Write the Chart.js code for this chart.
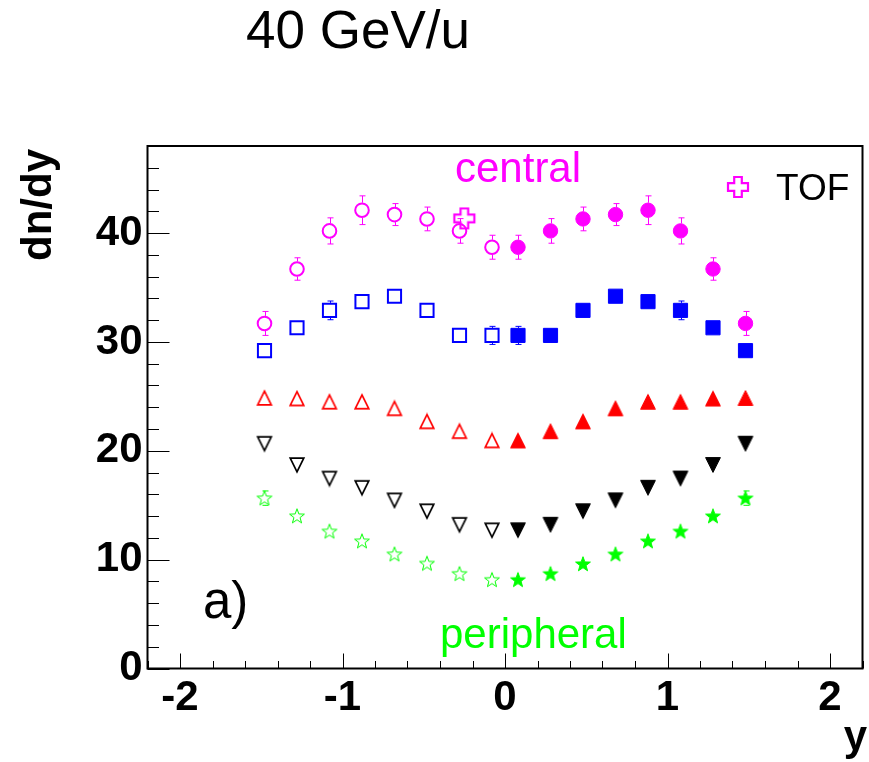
<!DOCTYPE html>
<html><head><meta charset="utf-8">
<script src="https://cdn.jsdelivr.net/npm/chart.js@4.4.1/dist/chart.umd.min.js"></script>
<style>html,body{margin:0;padding:0;background:#fff;}canvas{display:block;}</style>
</head><body>
<canvas id="c" width="869" height="762"></canvas>
<script>
// Rapidity bin centres (backward = reflected, forward = measured)
const rapidityBackward = [-1.48, -1.28, -1.08, -0.88, -0.68, -0.48, -0.28, -0.08];
const rapidityForward = [0.08, 0.28, 0.48, 0.68, 0.88, 1.08, 1.28, 1.48];

// dn/dy per centrality class
const centralForward = [38.7, 40.2, 41.3, 41.7, 42.1, 40.2, 36.7, 31.7];
const centralForwardErr = [1.1, 1.13, 1.09, 1.01, 1.32, 1.2, 1.03, 1.1];
const centralBackward = [31.7, 36.7, 40.2, 42.1, 41.7, 41.3, 40.2, 38.7];
const centralBackwardErr = [1.1, 1.03, 1.2, 1.32, 1.01, 1.09, 1.13, 1.1];

const class2Forward = [30.6, 30.6, 32.9, 34.2, 33.7, 32.9, 31.3, 29.2];
const class2ForwardErr = [0.83, 0.5, 0.5, 0.5, 0.5, 0.86, 0.5, 0.5];
const class2Backward = [29.2, 31.3, 32.9, 33.7, 34.2, 32.9, 30.6, 30.6];
const class2BackwardErr = [0.5, 0.5, 0.86, 0.5, 0.5, 0.5, 0.5, 0.83];

const class3Forward = [20.95, 21.8, 22.7, 23.9, 24.5, 24.5, 24.8, 24.85];
const class3Backward = [24.85, 24.8, 24.5, 24.5, 23.9, 22.7, 21.8, 20.95];
const class3Err = [0.4, 0.4, 0.4, 0.4, 0.4, 0.4, 0.4, 0.4];

const class4Forward = [12.7, 13.2, 14.45, 15.45, 16.6, 17.45, 18.7, 20.65];
const class4Backward = [20.65, 18.7, 17.45, 16.6, 15.45, 14.45, 13.2, 12.7];
const class4Err = [0.3, 0.3, 0.3, 0.3, 0.3, 0.3, 0.3, 0.3];

const peripheralForward = [8.15, 8.7, 9.6, 10.5, 11.7, 12.6, 14.0, 15.65];
const peripheralBackward = [15.65, 14.0, 12.6, 11.7, 10.5, 9.65, 8.7, 8.15];
const peripheralForwardErr = [0.3, 0.3, 0.3, 0.3, 0.3, 0.3, 0.4, 0.66];
const peripheralBackwardErr = [0.66, 0.4, 0.3, 0.3, 0.3, 0.3, 0.3, 0.3];

// TOF measurement
const tofRapidity = [-0.25];
const tofValue = [41.35];

// Axis ticks
const xTickValues = [-2, -1, 0, 1, 2];
const yTickValues = [0, 10, 20, 30, 40];

const FONT = '"Liberation Sans", Arial, Helvetica, sans-serif';
const MAGENTA = '#ff00ff', BLUE = '#0000ff', RED = '#ff0000', BLACK = '#000000', GREEN = '#00ff00';

// ---- marker images ----
function markerCanvas(size, draw) {
  const c = document.createElement('canvas');
  c.width = size; c.height = size;
  const g = c.getContext('2d');
  draw(g, size / 2);
  return c;
}
function triangleMarker(color, filled, down) {
  return markerCanvas(18, (g, c) => {
    const h = filled ? 7.4 : 6.8;
    const s = down ? -1 : 1;
    g.beginPath();
    g.moveTo(c, c - s * h);
    g.lineTo(c + h, c + s * h);
    g.lineTo(c - h, c + s * h);
    g.closePath();
    if (filled) { g.fillStyle = color; g.fill(); }
    g.strokeStyle = color; g.lineWidth = filled ? 1 : 1.7; g.stroke();
  });
}
function starMarker(color, filled) {
  return markerCanvas(18, (g, c) => {
    const ro = 7.8, ri = 3.2;
    g.beginPath();
    for (let k = 0; k < 10; k++) {
      const r = k % 2 === 0 ? ro : ri;
      const a = -Math.PI / 2 + k * Math.PI / 5;
      const px = c + r * Math.cos(a), py = c + 0.5 + r * Math.sin(a);
      if (k === 0) g.moveTo(px, py); else g.lineTo(px, py);
    }
    g.closePath();
    if (filled) { g.fillStyle = color; g.fill(); }
    g.strokeStyle = color; g.lineWidth = 1; g.stroke();
  });
}
function plusMarker(color) {
  return markerCanvas(26, (g, c) => {
    const h = 10, a = 3.8;
    const pts = [[-a,-h],[a,-h],[a,-a],[h,-a],[h,a],[a,a],[a,h],[-a,h],[-a,a],[-h,a],[-h,-a],[-a,-a]];
    g.beginPath();
    pts.forEach((p, i) => { if (i === 0) g.moveTo(c + p[0], c + p[1]); else g.lineTo(c + p[0], c + p[1]); });
    g.closePath();
    g.strokeStyle = color; g.lineWidth = 2.2; g.stroke();
  });
}

const tofImg = plusMarker(MAGENTA);

function pts(xs, ys) { return xs.map((x, i) => ({ x: x, y: ys[i] })); }

function series(xs, ys, errs, style, half, errColor) {
  return Object.assign({ data: pts(xs, ys), errors: errs, markerHalf: half, errorColor: errColor, showLine: false }, style);
}

const openCircle = { pointStyle: 'circle', pointRadius: 6.8, borderWidth: 2, borderColor: MAGENTA, backgroundColor: 'rgba(0,0,0,0)' };
const fullCircle = { pointStyle: 'circle', pointRadius: 7.2, borderWidth: 1, borderColor: MAGENTA, backgroundColor: MAGENTA };
const openSquare = { pointStyle: 'rect', pointRadius: 9.3, borderWidth: 2, borderColor: BLUE, backgroundColor: 'rgba(0,0,0,0)' };
const fullSquare = { pointStyle: 'rect', pointRadius: 10, borderWidth: 1, borderColor: BLUE, backgroundColor: BLUE };
const img = (im) => ({ pointStyle: im, pointRadius: 8, borderWidth: 0, borderColor: 'rgba(0,0,0,0)', backgroundColor: 'rgba(0,0,0,0)' });

const datasets = [
  { data: pts(tofRapidity, tofValue), showLine: false, ...img(tofImg), pointRadius: 11 },
  series(rapidityBackward, centralBackward, centralBackwardErr, openCircle, 7.5, MAGENTA),
  series(rapidityForward, centralForward, centralForwardErr, fullCircle, 7.5, MAGENTA),
  series(rapidityBackward, class2Backward, class2BackwardErr, openSquare, 7.5, BLUE),
  series(rapidityForward, class2Forward, class2ForwardErr, fullSquare, 7.5, BLUE),
  series(rapidityBackward, class3Backward, class3Err, img(triangleMarker(RED, false, false)), 7.5, RED),
  series(rapidityForward, class3Forward, class3Err, img(triangleMarker(RED, true, false)), 7.5, RED),
  series(rapidityBackward, class4Backward, class4Err, img(triangleMarker(BLACK, false, true)), 7.5, BLACK),
  series(rapidityForward, class4Forward, class4Err, img(triangleMarker(BLACK, true, true)), 7.5, BLACK),
  series(rapidityBackward, peripheralBackward, peripheralBackwardErr, img(starMarker(GREEN, false)), 7, GREEN),
  series(rapidityForward, peripheralForward, peripheralForwardErr, img(starMarker(GREEN, true)), 7, GREEN)
];

// Vertical error bars drawn from the marker edge outward, with small end caps
const errorBars = {
  id: 'errorBars',
  beforeDatasetsDraw(chart) {
    const ctx = chart.ctx, xs = chart.scales.x, ys = chart.scales.y;
    ctx.save();
    chart.data.datasets.forEach((ds) => {
      if (!ds.errors) return;
      ctx.strokeStyle = ds.errorColor;
      ds.data.forEach((p, i) => {
        const e = ds.errors[i];
        const px = Math.round(xs.getPixelForValue(p.x)) + 0.5;
        const py = ys.getPixelForValue(p.y);
        const top = ys.getPixelForValue(p.y + e);
        const bot = ys.getPixelForValue(p.y - e);
        const half = ds.markerHalf;
        ctx.lineWidth = 1;
        ctx.beginPath();
        if (py - top > half) {
          ctx.moveTo(px, py - half); ctx.lineTo(px, top);
          ctx.moveTo(px - 3, top); ctx.lineTo(px + 3, top);
        }
        if (bot - py > half) {
          ctx.moveTo(px, py + half); ctx.lineTo(px, bot);
          ctx.moveTo(px - 3, bot); ctx.lineTo(px + 3, bot);
        }
        ctx.stroke();
      });
    });
    ctx.restore();
  }
};

const tickFont = { family: FONT, size: 42, weight: 'bold' };

// Frame, inward tick marks and x tick labels
const frame = {
  id: 'frame',
  afterDraw(chart) {
    const ctx = chart.ctx, a = chart.chartArea, xs = chart.scales.x, ys = chart.scales.y;
    ctx.save();
    ctx.strokeStyle = '#000';
    ctx.lineWidth = 1;
    ctx.beginPath();
    for (let v = -2.2; v <= 2.2001; v += 0.2) {
      const x = Math.round(xs.getPixelForValue(v)) + 0.5;
      const major = Math.abs(v - Math.round(v)) < 1e-6;
      const len = major ? 15 : 7.5;
      ctx.moveTo(x, a.bottom); ctx.lineTo(x, a.bottom - len);
    }
    for (let v = 0; v <= 48.001; v += 2) {
      const y = Math.round(ys.getPixelForValue(v)) + 0.5;
      const major = v % 10 === 0;
      const len = major ? 22 : 11.5;
      ctx.moveTo(a.left, y); ctx.lineTo(a.left + len, y);
    }
    ctx.stroke();
    ctx.lineWidth = 2;
    ctx.strokeRect(a.left, a.top, a.right - a.left, a.bottom - a.top);

    ctx.fillStyle = '#000';
    ctx.font = 'bold 42px ' + FONT;
    ctx.textAlign = 'center';
    ctx.textBaseline = 'alphabetic';
    xTickValues.forEach((v) => {
      ctx.fillText(String(v), xs.getPixelForValue(v), 710);
    });
    ctx.restore();
  }
};

// Title, annotations, legend and axis titles
const texts = {
  id: 'texts',
  afterDraw(chart) {
    const ctx = chart.ctx;
    ctx.save();
    ctx.textBaseline = 'alphabetic';
    ctx.textAlign = 'left';
    ctx.fillStyle = BLACK;
    ctx.font = '53px ' + FONT;
    ctx.fillText('40 GeV/u', 246, 48);

    ctx.fillStyle = MAGENTA;
    ctx.font = '42px ' + FONT;
    ctx.fillText('central', 455, 182);

    ctx.fillStyle = GREEN;
    ctx.fillText('peripheral', 440, 648);

    ctx.fillStyle = BLACK;
    ctx.font = '51px ' + FONT;
    ctx.fillText('a)', 203, 618);

    ctx.font = '37px ' + FONT;
    ctx.fillText('TOF', 776, 200);
    ctx.drawImage(tofImg, 738 - tofImg.width / 2, 187 - tofImg.height / 2);

    ctx.font = 'bold 42px ' + FONT;
    ctx.textAlign = 'right';
    ctx.fillText('y', 867, 750);

    ctx.translate(51, 205);
    ctx.rotate(-Math.PI / 2);
    ctx.textAlign = 'center';
    ctx.fillText('dn/dy', 0, 0);
    ctx.restore();
  }
};

new Chart(document.getElementById('c'), {
  type: 'scatter',
  data: { datasets: datasets },
  options: {
    responsive: false,
    animation: false,
    events: [],
    layout: { autoPadding: false, padding: { top: 146, right: 6.5, left: 0, bottom: 0 } },
    plugins: { legend: { display: false }, tooltip: { enabled: false } },
    scales: {
      x: {
        type: 'linear', min: -2.2, max: 2.2,
        afterBuildTicks: (s) => { s.ticks = xTickValues.map((v) => ({ value: v })); },
        afterFit: (s) => { s.height = 93.5; },
        grid: { display: false, drawTicks: false },
        border: { display: false },
        ticks: { display: false }
      },
      y: {
        type: 'linear', min: 0, max: 48,
        afterBuildTicks: (s) => { s.ticks = yTickValues.map((v) => ({ value: v })); },
        afterFit: (s) => { s.width = 147.5; },
        grid: { display: false, drawTicks: false },
        border: { display: false },
        ticks: { font: tickFont, color: '#000', padding: 5, autoSkip: false }
      }
    }
  },
  plugins: [errorBars, frame, texts]
});
</script>
</body></html>
